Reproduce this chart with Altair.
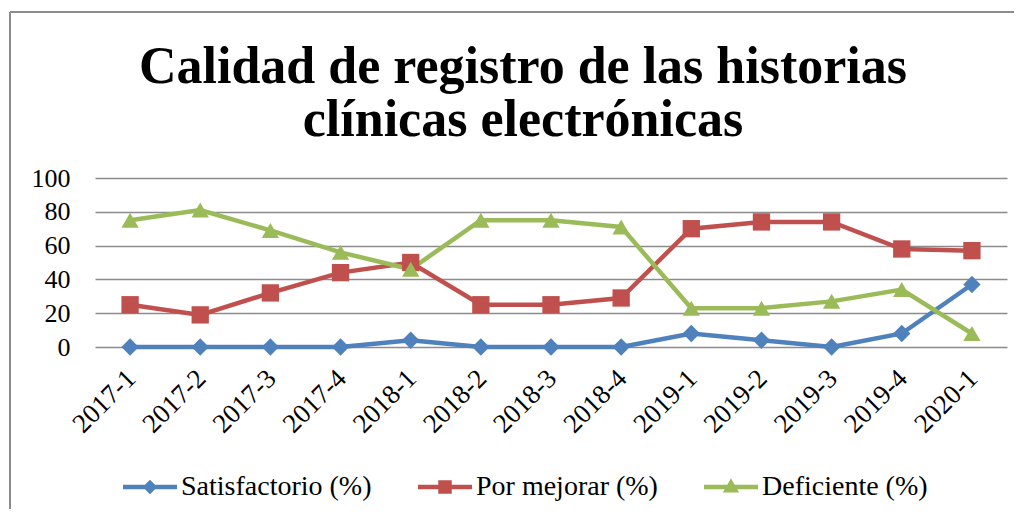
import altair as alt
import pandas as pd

periodos = ["2017-1", "2017-2", "2017-3", "2017-4", "2018-1", "2018-2", "2018-3",
            "2018-4", "2019-1", "2019-2", "2019-3", "2019-4", "2020-1"]
satisfactorio = [0, 0, 0, 0, 4, 0, 0, 0, 8, 4, 0, 8, 37]
por_mejorar = [25, 19, 32, 44, 50, 25, 25, 29, 70, 74, 74, 58, 57]
deficiente = [75, 81, 69, 56, 46, 75, 75, 71, 23, 23, 27, 34, 8]

series = ["Satisfactorio (%)", "Por mejorar (%)", "Deficiente (%)"]
colores = ["#4F81BD", "#C0504D", "#9BBB59"]
formas = ["diamond", "square", "triangle-up"]
y_ticks = [0, 20, 40, 60, 80, 100]

rows = []
for s, vals in zip(series, [satisfactorio, por_mejorar, deficiente]):
    for p, v in zip(periodos, vals):
        rows.append({"periodo": p, "valor": v, "serie": s})
df = pd.DataFrame(rows)

FONT = "Liberation Serif"

x = alt.X("periodo:N", sort=periodos,
          scale=alt.Scale(type="point", padding=0.5),
          axis=alt.Axis(title=None, labelAngle=-45, labelAlign="right", labelBaseline="middle",
                        labelFont=FONT, labelFontSize=27, labelColor="#000000",
                        labelPadding=27, labelOffset=1, ticks=False, domain=False, grid=False))
y = alt.Y("valor:Q",
          scale=alt.Scale(domain=[0, 100], nice=False),
          axis=alt.Axis(title=None, values=y_ticks, labelFont=FONT, labelFontSize=26,
                        labelColor="#000000", labelPadding=25, ticks=False, domain=False,
                        grid=True, gridColor="#8c8c8c", gridWidth=1.6))

capas = []
for s, f, c in zip(series, formas, colores):
    base = alt.Chart(df).transform_filter(alt.datum.serie == s)
    capas.append(base.mark_line(strokeWidth=4.5, color=c).encode(x=x, y=y))
for s, f, c in zip(series, formas, colores):
    base = alt.Chart(df).transform_filter(alt.datum.serie == s)
    capas.append(base.mark_point(filled=True, size=300, opacity=1, shape=f, color=c)
                 .encode(x=x, y=y))

simbolos = [
    "M-1,-0.08H1V0.08H-1Z M0,-0.27L0.27,0L0,0.27L-0.27,0Z",
    "M-1,-0.08H1V0.08H-1Z M-0.25,-0.25H0.25V0.25H-0.25Z",
    "M-1,-0.08H1V0.08H-1Z M0,-0.32L0.3,0.2L-0.3,0.2Z",
]

leyenda = alt.Chart(df).transform_filter("false").mark_point(filled=True, opacity=1).encode(
    x=x, y=y,
    color=alt.Color("serie:N", scale=alt.Scale(domain=series, range=colores),
                    legend=alt.Legend(title=None, orient="none", direction="horizontal",
                                      legendX=28, legendY=282,
                                      labelFont=FONT, labelFontSize=28, labelColor="#000000",
                                      symbolSize=2916, symbolStrokeWidth=0, symbolOpacity=1,
                                      labelOffset=4, columnPadding=46, labelLimit=400)),
    shape=alt.Shape("serie:N", scale=alt.Scale(domain=series, range=simbolos)),
)

marco_sup = alt.Chart(df).mark_rule(color="#8c8c8c", strokeWidth=2).encode(
    x=alt.value(-85), x2=alt.value(930), y=alt.value(-166))
marco_izq = alt.Chart(df).mark_rule(color="#8c8c8c", strokeWidth=2).encode(
    x=alt.value(-85), y=alt.value(-166), y2=alt.value(340))

chart = alt.layer(marco_sup, marco_izq, *capas, leyenda).properties(
    width=912, height=169,
    autosize=alt.AutoSizeParams(type="none"),
    padding={"left": 87, "top": 170, "right": 7, "bottom": 162},
    title=alt.Title(["Calidad de registro de las historias", "clínicas electrónicas"],
                    font=FONT, fontSize=52, fontWeight="bold", color="#000000",
                    lineHeight=53, anchor="middle", frame="group", dx=-28, offset=-136),
).configure_view(stroke=None)

chart.save("out.html", embed_options={"renderer": "svg", "actions": False})
